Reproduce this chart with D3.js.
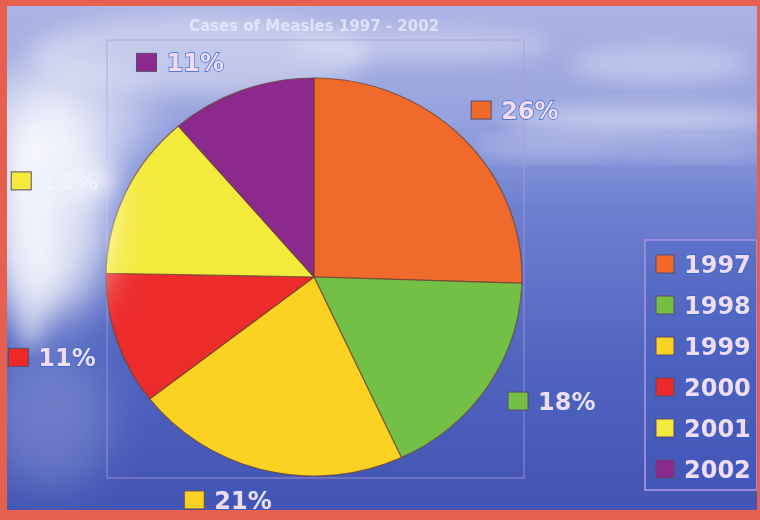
<!DOCTYPE html>
<html><head><meta charset="utf-8">
<script src="https://cdn.jsdelivr.net/npm/d3@7"></script>
<style>html,body{margin:0;padding:0;background:#5a6cc8;} svg{display:block}</style>
</head><body>
<script>
// ---- data ----
const title = "Cases of Measles 1997 - 2002";
const years = ["1997", "1998", "1999", "2000", "2001", "2002"];
const shares = [25.5, 17.6, 21.4, 10.8, 13.4, 11.3];
const sliceColors = ["#ef6a2b", "#74bf45", "#fbd122", "#ec2b2b", "#f4ea3c", "#8b2a8c"];
const labelNudge = [[-3, -8], [8, -4], [21, 5], [4, 3], [-3, 5], [-2, -4]];

const W = 760, H = 520;
const cx = 314, cy = 277, rx = 208, ry = 199;

const svg = d3.select("body").append("svg").attr("width", W).attr("height", H);
const defs = svg.append("defs");

// sky background
const bg = defs.append("linearGradient").attr("id", "sky").attr("x1", 0).attr("y1", 0).attr("x2", 0).attr("y2", 1);
[["0%", "#aeb5e4"], ["22%", "#97a3de"], ["40%", "#6d80d0"], ["70%", "#5064bf"], ["100%", "#4253b3"]]
  .forEach(([o, c]) => bg.append("stop").attr("offset", o).attr("stop-color", c));
defs.append("filter").attr("id", "blur").attr("x", "-50%").attr("y", "-50%").attr("width", "200%").attr("height", "200%")
  .append("feGaussianBlur").attr("stdDeviation", 10);
defs.append("filter").attr("id", "blurBig").attr("x", "-50%").attr("y", "-50%").attr("width", "200%").attr("height", "200%")
  .append("feGaussianBlur").attr("stdDeviation", 22);
defs.append("filter").attr("id", "soft").append("feGaussianBlur").attr("stdDeviation", 0.6);

svg.append("rect").attr("width", W).attr("height", H).attr("fill", "url(#sky)");

const clouds = svg.append("g").attr("fill", "#ffffff");
[[200, 55, 170, 40, 0.35, "blur"], [420, 45, 130, 16, 0.3, "blur"], [660, 65, 90, 18, 0.3, "blur"],
 [640, 120, 140, 13, 0.45, "blur"], [560, 148, 90, 9, 0.35, "blur"], [700, 150, 70, 8, 0.3, "blur"],
 [60, 120, 90, 60, 0.45, "blurBig"], [50, 420, 60, 70, 0.18, "blurBig"]]
  .forEach(([x, y, a, b, o, f]) => clouds.append("ellipse").attr("cx", x).attr("cy", y).attr("rx", a).attr("ry", b)
    .attr("opacity", o).attr("filter", `url(#${f})`));

// plot area frame
svg.append("rect").attr("x", 107).attr("y", 40).attr("width", 417).attr("height", 438)
  .attr("fill", "none").attr("stroke", "#b49ad8").attr("stroke-width", 1.5).attr("opacity", 0.5);

// title
svg.append("text").attr("x", cx).attr("y", 31).attr("text-anchor", "middle")
  .attr("font-family", "DejaVu Sans").attr("font-weight", "bold").attr("font-size", 15)
  .attr("fill", "#eef0ff").attr("opacity", 0.75).attr("filter", "url(#soft)")
  .text(title);

// pie
const pie = d3.pie().sort(null).value(d => d);
const arcs = pie(shares);
const total = d3.sum(shares);
const arc = d3.arc().innerRadius(0).outerRadius(rx);
svg.append("g").attr("transform", `translate(${cx},${cy}) scale(1,${ry / rx})`)
  .selectAll("path").data(arcs).join("path")
  .attr("d", arc).attr("fill", (d, i) => sliceColors[i])
  .attr("stroke", "#6b4436").attr("stroke-width", 1.2).attr("stroke-opacity", 0.75)
  .attr("vector-effect", "non-scaling-stroke");

// text style helper
function styleText(sel) {
  return sel.attr("font-family", "DejaVu Sans").attr("font-weight", "bold").attr("font-size", 24)
    .attr("fill", "#f4dcf0").attr("stroke", "#2d66d2").attr("stroke-width", 1.3)
    .attr("paint-order", "stroke").attr("filter", "url(#soft)");
}

// data labels: texts first, then glare, then markers
const labelPos = arcs.map((d, i) => {
  const mid = (d.startAngle + d.endAngle) / 2;
  const s = Math.sin(mid), c = Math.cos(mid);
  const ax = cx + (rx + 15) * s, ay = cy - (ry + 15) * c;
  return {
    left: (s >= 0 ? ax : ax - 98) + labelNudge[i][0],
    my: ay + (c > 0 ? -10 : 10) + labelNudge[i][1],
    text: Math.round(d.data / total * 100) + "%"
  };
});
const labelText = svg.append("g");
labelPos.forEach(p => styleText(labelText.append("text").attr("x", p.left + 30).attr("y", p.my + 9)).text(p.text));

// left glare (washes out the 2001 label)
svg.append("ellipse").attr("cx", 50).attr("cy", 205).attr("rx", 60).attr("ry", 115)
  .attr("fill", "#ffffff").attr("opacity", 0.8).attr("filter", "url(#blurBig)");
svg.append("ellipse").attr("cx", 30).attr("cy", 240).attr("rx", 25).attr("ry", 110)
  .attr("fill", "#ffffff").attr("opacity", 0.5).attr("filter", "url(#blur)");
svg.append("ellipse").attr("cx", 72).attr("cy", labelPos[4].my).attr("rx", 42).attr("ry", 20)
  .attr("fill", "#eef0fb").attr("opacity", 0.85).attr("filter", "url(#blur)");

const labelMarks = svg.append("g");
labelPos.forEach((p, i) => labelMarks.append("rect").attr("x", p.left).attr("y", p.my - 9).attr("width", 20).attr("height", 18)
  .attr("fill", sliceColors[i]).attr("stroke", "#5a4a6a").attr("stroke-width", 1).attr("filter", "url(#soft)"));

// legend
const legend = svg.append("g");
legend.append("rect").attr("x", 645).attr("y", 240).attr("width", 112).attr("height", 250)
  .attr("fill", "#3f56c0").attr("fill-opacity", 0.25).attr("stroke", "#9a88d8").attr("stroke-width", 2);
years.forEach((y, i) => {
  const ey = 264 + i * 41;
  legend.append("rect").attr("x", 656).attr("y", ey - 9).attr("width", 18).attr("height", 18)
    .attr("fill", sliceColors[i]).attr("stroke", "#5a4a6a").attr("stroke-width", 1).attr("filter", "url(#soft)");
  styleText(legend.append("text").attr("x", 684).attr("y", ey + 9)).text(y);
});

// photo frame border
const border = "#e6604f";
svg.append("rect").attr("x", 0).attr("y", 0).attr("width", W).attr("height", 6).attr("fill", border);
svg.append("rect").attr("x", 0).attr("y", 0).attr("width", 7).attr("height", H).attr("fill", border);
svg.append("rect").attr("x", 0).attr("y", H - 10).attr("width", W).attr("height", 10).attr("fill", border);
svg.append("rect").attr("x", W - 3).attr("y", 0).attr("width", 3).attr("height", H).attr("fill", border);
</script>
</body></html>
